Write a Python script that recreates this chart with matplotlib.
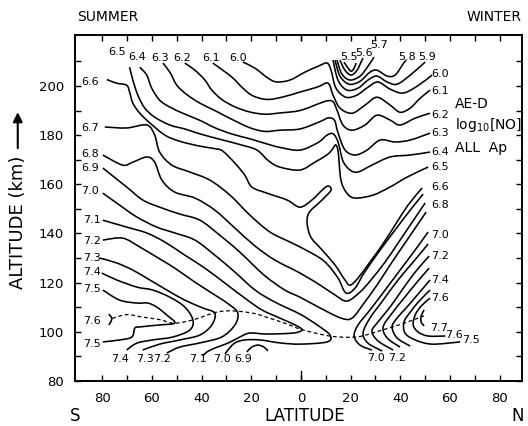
import matplotlib
matplotlib.use('Agg')
import matplotlib.pyplot as plt
from matplotlib.path import Path
from matplotlib.patches import PathPatch
import numpy as np

plt.rcParams['font.family'] = ['DejaVu Sans']

# ---- contour lines of log10[NO]  (latitude: negative = south/summer, altitude km)
c55_lat = [17.3, 19.0, 20.2, 21.4, 22.2]
c55_alt = [209.7, 207.2, 206.0, 207.2, 209.3]
c56_lat = [15.7, 17.7, 20.2, 22.6, 24.2, 25.0]
c56_alt = [210.5, 206.4, 204.4, 206.4, 209.7, 211.3]
c57_lat = [14.5, 16.5, 19.8, 23.8, 27.0, 29.4]
c57_alt = [210.5, 204.8, 202.4, 204.0, 208.0, 211.7]
c58_lat = [13.7, 15.7, 19.4, 23.8, 27.8, 30.6, 34.7, 37.9, 41.1, 42.3]
c58_alt = [210.5, 204.0, 200.7, 201.9, 205.6, 206.4, 204.0, 204.4, 208.9, 210.5]
c59_lat = [12.9, 14.9, 18.5, 23.0, 27.0, 30.6, 34.7, 38.7, 44.0, 50.0]
c59_alt = [210.5, 202.4, 198.3, 199.1, 202.4, 204.0, 201.6, 200.7, 204.4, 209.7]
c60_lat = [-23.4, -18.5, -13.3, -9.7, -4.4, 1.6, 6.9, 10.5, 12.1, 14.1, 18.1, 22.6, 27.0, 31.0, 35.9, 41.1, 46.8, 52.8]
c60_alt = [209.7, 207.2, 203.2, 201.6, 202.4, 205.6, 208.0, 209.3, 206.4, 199.1, 195.4, 196.3, 199.5, 201.6, 198.7, 197.1, 199.9, 204.4]
c61_lat = [-35.5, -31.5, -27.4, -23.4, -19.4, -13.7, -7.3, -0.4, 6.5, 10.9, 12.9, 15.7, 20.6, 25.8, 30.6, 35.9, 39.9, 44.0, 48.0, 52.0]
c61_alt = [209.3, 206.4, 203.2, 199.1, 196.0, 194.5, 195.5, 197.5, 199.5, 201.1, 196.3, 191.0, 188.9, 192.2, 195.4, 192.2, 189.3, 191.0, 195.0, 198.3]
c62_lat = [-46.8, -42.7, -38.7, -35.9, -31.9, -26.6, -20.6, -14.5, -8.5, -0.4, 7.7, 11.0, 13.0, 14.5, 16.9, 20.6, 25.8, 30.6, 35.9, 39.9, 46.0, 52.0]
c62_alt = [209.3, 206.4, 202.4, 198.3, 194.5, 191.5, 189.4, 188.5, 189.0, 190.0, 193.0, 194.0, 193.5, 190.2, 184.1, 182.0, 184.1, 188.1, 186.1, 184.1, 186.9, 188.9]
c63_lat = [-55.6, -52.8, -50.0, -46.0, -40.7, -34.7, -28.0, -20.6, -14.5, -8.5, -0.4, 7.7, 11.0, 13.5, 14.9, 17.7, 21.8, 26.6, 31.9, 37.9, 44.0, 52.0]
c63_alt = [209.3, 205.6, 200.3, 196.5, 193.0, 190.0, 186.5, 183.0, 181.5, 182.0, 182.5, 185.5, 187.0, 186.0, 181.0, 174.0, 171.9, 173.9, 178.0, 177.2, 178.0, 180.8]
c64_lat = [-64.9, -62.1, -60.1, -56.9, -52.8, -47.6, -40.7, -34.7, -28.0, -20.6, -14.0, -8.5, -0.4, 6.9, 10.5, 13.0, 15.0, 16.9, 19.8, 23.0, 28.6, 35.9, 44.0, 52.0]
c64_alt = [207.6, 204.4, 199.1, 194.2, 191.4, 188.9, 186.0, 183.0, 180.5, 178.5, 176.5, 175.0, 173.9, 177.0, 180.0, 180.5, 177.0, 169.5, 165.8, 165.0, 167.8, 171.1, 171.9, 173.1]
c65_lat = [-69.0, -67.7, -65.7, -62.9, -58.9, -52.8, -46.8, -40.7, -31.5, -24.0, -17.7, -13.0, -8.5, -0.4, 5.6, 10.5, 12.5, 14.0, 15.0, 16.1, 18.5, 21.8, 29.0, 35.9, 42.7, 51.2]
c65_alt = [207.6, 202.4, 196.3, 191.0, 187.3, 184.1, 182.5, 180.5, 178.0, 176.0, 173.9, 169.5, 167.0, 165.8, 169.0, 172.0, 174.0, 176.0, 173.0, 161.7, 156.4, 154.4, 155.6, 158.9, 162.9, 167.0]
c66_lat = [-78.2, -74.2, -70.2, -69.0, -67.7, -64.9, -60.9, -54.8, -48.8, -40.7, -34.7, -31.5, -26.6, -22.6, -19.8, -13.7, -5.6, -0.4, 4.4, 8.5, 10.9, 12.1, 8.5, 2.8, 3.6, 8.5, 13.7, 17.7, 19.8, 23.0, 27.8, 32.7, 37.9, 43.1, 48.8]
c66_alt = [202.6, 201.1, 200.3, 197.5, 193.0, 188.9, 185.0, 180.0, 177.5, 175.5, 174.5, 173.5, 168.6, 163.7, 158.9, 156.4, 153.6, 150.7, 153.6, 157.6, 159.3, 157.6, 153.6, 147.5, 139.3, 133.3, 127.2, 121.1, 119.0, 121.9, 128.4, 135.3, 143.4, 151.5, 158.5]
c67_lat = [-79.0, -70.2, -62.1, -58.9, -56.9, -52.0, -44.8, -36.7, -28.6, -20.6, -12.5, -4.4, 3.6, 9.7, 14.9, 18.1, 21.8, 25.4, 31.9, 37.9, 44.0, 49.2]
c67_alt = [183.3, 182.9, 184.1, 180.0, 173.1, 167.8, 165.0, 161.7, 155.6, 147.5, 140.6, 136.5, 132.4, 128.4, 121.9, 115.8, 117.8, 123.9, 133.3, 141.4, 149.5, 156.0]
c68_lat = [-79.8, -71.8, -67.7, -62.1, -58.9, -56.0, -50.8, -42.7, -34.7, -26.6, -18.5, -10.5, -0.4, 7.7, 13.7, 18.5, 23.8, 28.2, 33.9, 39.1, 44.8, 50.0]
c68_alt = [171.9, 167.8, 169.0, 171.1, 169.0, 161.7, 156.8, 154.4, 149.5, 142.2, 134.9, 129.2, 123.9, 119.0, 115.0, 112.5, 116.2, 121.1, 128.4, 136.1, 144.6, 152.4]
c69_lat = [-79.8, -70.2, -63.7, -56.9, -48.8, -40.7, -32.7, -24.6, -14.9, -6.5, -0.4, 7.7, 16.1, 20.6, 25.4, 30.6, 36.7, 42.7, 50.4]
c69_alt = [166.6, 158.9, 153.6, 150.7, 147.9, 145.4, 139.3, 132.4, 123.1, 117.0, 114.1, 109.7, 105.6, 105.6, 111.7, 119.0, 128.4, 137.3, 148.7]
c69b_lat = [-21.8, -19.8, -17.3, -14.9, -13.3]
c69b_alt = [91.8, 93.8, 94.6, 93.8, 92.2]
c70_lat = [-79.8, -73.0, -66.1, -58.1, -50.8, -42.7, -34.7, -26.6, -18.5, -10.5, -0.4, 6.5, 11.7, 10.5, -0.4, -8.5, -16.5, -22.6, -26.6, -29.4, -30.6]
c70_alt = [156.4, 151.5, 146.7, 142.6, 140.2, 137.3, 131.2, 124.3, 117.0, 112.1, 107.2, 102.8, 98.7, 95.9, 95.0, 95.5, 96.7, 96.7, 95.5, 92.6, 91.0]
c71_lat = [-79.8, -70.2, -62.1, -54.8, -46.8, -38.7, -30.6, -22.6, -15.7, -8.5, -1.6, 0.4, -3.2, -13.7, -20.6, -24.6, -29.4, -34.7, -37.9, -39.5]
c71_alt = [145.4, 142.6, 140.2, 136.5, 131.2, 125.9, 119.8, 113.7, 108.9, 105.6, 102.4, 100.7, 99.5, 99.1, 99.5, 97.9, 95.4, 93.4, 91.8, 90.2]
c72_lat = [-79.8, -71.8, -64.9, -58.1, -50.8, -42.7, -34.7, -28.6, -25.4, -26.6, -31.9, -40.7, -48.8, -54.0]
c72_alt = [137.3, 138.1, 134.5, 130.4, 125.9, 120.2, 115.0, 110.9, 107.6, 102.8, 97.9, 95.5, 93.8, 91.4]
c73_lat = [-81.0, -74.2, -67.7, -60.9, -54.0, -46.8, -39.5, -34.7, -35.9, -40.7, -48.8, -56.9, -63.7]
c73_alt = [130.0, 128.0, 125.1, 121.1, 117.0, 112.9, 109.7, 107.6, 102.8, 98.7, 96.7, 95.0, 92.6]
c74_lat = [-80.2, -74.2, -66.1, -59.7, -52.8, -46.8, -43.5, -44.8, -51.6, -59.7, -66.1, -70.2]
c74_alt = [123.9, 121.1, 118.2, 117.0, 114.1, 110.1, 104.8, 100.7, 97.9, 96.7, 95.4, 92.6]
c75_lat = [-79.8, -73.0, -66.1, -61.7, -58.1, -54.0, -50.8, -56.9, -64.9, -66.9, -68.1, -73.0, -79.8]
c75_alt = [117.0, 112.9, 111.7, 111.7, 110.1, 106.8, 103.6, 102.8, 102.0, 101.5, 97.9, 96.7, 95.9]
c76_lat = [-77.4, -76.2, -76.6, -77.4]
c76_alt = [107.2, 105.6, 104.0, 102.8]
# winter-side lower contours
w70_lat = [51.2, 46.0, 39.9, 33.9, 27.8, 23.0, 21.4, 23.8, 28.6]
w70_alt = [140.6, 133.3, 125.1, 117.0, 108.9, 102.8, 98.3, 94.6, 92.6]
w71_lat = [51.2, 45.2, 39.1, 33.1, 27.8, 25.0, 27.0, 32.7]
w71_alt = [135.7, 128.4, 121.1, 112.9, 105.6, 99.5, 95.4, 92.2]
w72_lat = [51.6, 46.0, 40.7, 35.9, 31.0, 28.6, 31.0, 37.1]
w72_alt = [130.8, 124.3, 117.0, 110.1, 104.0, 100.3, 96.3, 92.6]
w73_lat = [51.6, 46.4, 41.5, 36.7, 33.1, 34.7, 39.9]
w73_alt = [125.9, 119.8, 113.7, 107.6, 102.0, 97.5, 93.8]
w74_lat = [52.0, 47.2, 42.7, 38.7, 36.7, 38.7, 44.0]
w74_alt = [121.1, 115.4, 110.1, 105.6, 102.0, 97.5, 94.2]
w75_lat = [52.0, 47.6, 44.0, 41.5, 41.9, 46.0, 52.8, 64.1]
w75_alt = [117.0, 112.5, 108.0, 104.0, 99.5, 96.7, 95.0, 95.9]
w76_lat = [52.0, 48.4, 46.0, 45.2, 47.2, 51.2, 58.1]
w76_alt = [113.7, 110.5, 106.8, 102.8, 99.9, 98.3, 98.3]
w77_lat = [49.6, 48.4, 48.4, 49.6]
w77_alt = [108.9, 106.4, 104.0, 102.4]

# dashed line: altitude of the [NO] maximum
peak_lat = [-76, -70, -64, -57, -51, -43, -34, -27, -19, -14, -6.5, 0, 8, 14, 23, 32, 41.5, 49.5]
peak_alt = [105.5, 107, 106, 105, 103.5, 105, 108, 108.5, 107.5, 106, 103.5, 101, 99, 98, 98, 100.5, 103.5, 106.5]

# contour labels (centred)
lab_text = ["6.5", "6.4", "6.3", "6.2", "6.1", "6.0", "5.5", "5.6", "5.7", "5.8", "5.9",
            "6.6", "6.7", "6.8", "6.9", "7.0", "7.1", "7.2", "7.3", "7.4", "7.5", "7.6", "7.5",
            "7.4", "7.3", "7.2", "7.1", "7.0", "6.9", "7.0", "7.2", "7.7", "7.6", "7.5"]
lab_lat = [-74.2, -66.1, -56.9, -48.0, -36.3, -25.4, 19.4, 25.4, 31.4, 42.7, 50.8,
           -85.0, -85.0, -85.0, -85.0, -85.0, -84.3, -84.3, -84.3, -84.3, -84.3, -84.3, -84.3,
           -73.0, -62.9, -56.0, -41.5, -31.9, -23.4, 30.2, 38.7, 55.6, 61.7, 68.5]
lab_alt = [213.7, 211.7, 211.3, 211.3, 211.3, 211.3, 211.7, 213.3, 216.6, 211.7, 211.7,
           201.6, 182.9, 172.3, 166.6, 157.2, 145.4, 136.9, 130.0, 124.3, 117.4, 104.4, 95.0,
           88.9, 88.9, 88.9, 88.9, 88.9, 88.9, 89.3, 89.3, 101.5, 98.7, 96.7]
# right-hand labels (left aligned)
rlab_text = ["6.0", "6.1", "6.2", "6.3", "6.4", "6.5", "6.6", "6.8", "7.0", "7.2", "7.4", "7.6"]
rlab_alt = [204.8, 197.9, 188.1, 180.8, 173.1, 167.0, 158.9, 151.5, 139.3, 130.8, 121.1, 113.7]
rlab_lat = 52.4

xtick_vals = [-80, -60, -40, -20, 0, 20, 40, 60, 80]
xtick_labels = ["80", "60", "40", "20", "0", "20", "40", "60", "80"]
ytick_vals = [80, 100, 120, 140, 160, 180, 200]

contours = [
    (c55_lat, c55_alt), (c56_lat, c56_alt), (c57_lat, c57_alt), (c58_lat, c58_alt), (c59_lat, c59_alt),
    (c60_lat, c60_alt), (c61_lat, c61_alt), (c62_lat, c62_alt), (c63_lat, c63_alt), (c64_lat, c64_alt),
    (c65_lat, c65_alt), (c66_lat, c66_alt), (c67_lat, c67_alt), (c68_lat, c68_alt), (c69_lat, c69_alt),
    (c69b_lat, c69b_alt), (c70_lat, c70_alt), (c71_lat, c71_alt), (c72_lat, c72_alt), (c73_lat, c73_alt),
    (c74_lat, c74_alt), (c75_lat, c75_alt), (c76_lat, c76_alt),
    (w70_lat, w70_alt), (w71_lat, w71_alt), (w72_lat, w72_alt), (w73_lat, w73_alt), (w74_lat, w74_alt),
    (w75_lat, w75_alt), (w76_lat, w76_alt), (w77_lat, w77_alt),
]


def smooth_path(xs, ys):
    """Catmull-Rom curve through the points, drawn as cubic Bezier segments."""
    p = np.column_stack([xs, ys]).astype(float)
    n = len(p)
    if n < 3:
        return Path(p)
    verts = [p[0]]
    codes = [Path.MOVETO]
    for i in range(n - 1):
        p0 = p[i - 1] if i > 0 else p[i]
        p1, p2 = p[i], p[i + 1]
        p3 = p[i + 2] if i + 2 < n else p[i + 1]
        c1 = p1 + (p2 - p0) / 6.0
        c2 = p2 - (p3 - p1) / 6.0
        verts += [c1, c2, p2]
        codes += [Path.CURVE4] * 3
    return Path(verts, codes)


fig = plt.figure(figsize=(5.28, 4.26), dpi=100)
ax = fig.add_axes([0.142, 0.1056, 0.8466, 0.8122])
ax.set_xlim(-91, 89)
ax.set_ylim(80, 220.7)

for xs, ys in contours:
    ax.add_patch(PathPatch(smooth_path(xs, ys), fill=False, lw=1.15, color='black'))

ax.add_patch(PathPatch(smooth_path(peak_lat, peak_alt), fill=False, lw=0.9,
                       color='black', linestyle=(0, (3, 2.2))))

for t, x, y in zip(lab_text, lab_lat, lab_alt):
    ax.text(x, y, t, ha='center', va='center', fontsize=8, color='black')
for t, y in zip(rlab_text, rlab_alt):
    ax.text(rlab_lat, y, t, ha='left', va='center', fontsize=8, color='black')

ax.text(62, 192.6, "AE-D", ha='left', va='center', fontsize=10)
ax.text(62, 184.1, r"log$_{10}$[NO]", ha='left', va='center', fontsize=10)
ax.text(62, 174.7, "ALL  Ap", ha='left', va='center', fontsize=10)

ax.set_xticks(xtick_vals)
ax.set_xticklabels(xtick_labels)
ax.set_xticks(np.arange(-80, 90, 10), minor=True)
ax.set_yticks(ytick_vals)
ax.set_yticks(np.arange(90, 220, 10), minor=True)
ax.tick_params(which='both', direction='in', top=True, right=True, labelsize=9.5, width=1.0)
ax.tick_params(which='major', length=4, pad=8)
ax.tick_params(which='minor', length=4)
for s in ax.spines.values():
    s.set_linewidth(1.4)
# long centre tick at the equator
ax.axvline(0, ymin=0, ymax=0.03, color='black', lw=1.0)
ax.axvline(0, ymin=0.985, ymax=1, color='black', lw=1.0)

ax.text(0.0, -0.10, "S", transform=ax.transAxes, ha='center', va='center', fontsize=12)
ax.text(0.515, -0.10, "LATITUDE", transform=ax.transAxes, ha='center', va='center', fontsize=12)
ax.text(0.99, -0.10, "N", transform=ax.transAxes, ha='center', va='center', fontsize=12)
ax.text(0.004, 1.052, "SUMMER", transform=ax.transAxes, ha='left', va='center', fontsize=10)
ax.text(1.0, 1.052, "WINTER", transform=ax.transAxes, ha='right', va='center', fontsize=10)

ax.text(-0.128, 0.46, "ALTITUDE (km)", transform=ax.transAxes, rotation=90,
        ha='center', va='center', fontsize=13)
ax.annotate('', xy=(-0.128, 0.785), xytext=(-0.128, 0.665), xycoords='axes fraction',
            textcoords='axes fraction',
            arrowprops=dict(arrowstyle='-|>', color='black', lw=1.5, mutation_scale=14))

fig.savefig('out.png', dpi=100)
